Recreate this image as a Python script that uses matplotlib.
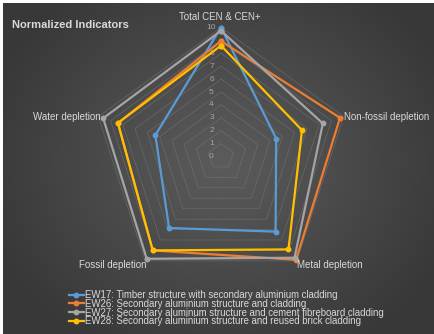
import numpy as np
import matplotlib.pyplot as plt

plt.rcParams['font.family'] = ['Liberation Sans', 'DejaVu Sans']

categories = ['Total CEN & CEN+', 'Non-fossil depletion', 'Metal depletion',
              'Fossil depletion', 'Water depletion']
series_names = ['EW17: Timber structure with secondary aluminium cladding',
                'EW26: Secondary aluminium structure and cladding',
                'EW27: Secondary aluminum structure and cement fibreboard cladding',
                'EW28: Secondary aluminium structure and reused brick cladding']
ew17 = [10.0, 4.5, 7.2, 6.85, 5.35]
ew26 = [8.95, 9.7, 9.9, 9.0, 8.4]
ew27 = [9.75, 8.3, 9.7, 9.8, 9.6]
ew28 = [8.6, 6.6, 8.9, 9.0, 8.4]
series = [ew17, ew26, ew27, ew28]
colors = ['#5B9BD5', '#ED7D31', '#A5A5A5', '#FFC000']
ticks = list(range(0, 11))

W, H = 435, 334
fig = plt.figure(figsize=(W / 100, H / 100), dpi=100)
fig.patch.set_facecolor('white')

# background with radial gradient
bg = fig.add_axes([3 / W, 0, 1 - 3 / W, 1 - 3 / H])
yy, xx = np.mgrid[0:H, 0:W]
d = np.sqrt(((xx - 221) / 230.0) ** 2 + ((yy - 160) / 200.0) ** 2)
shade = np.clip(0.36 - 0.13 * d, 0.22, 0.36)
bg.imshow(np.dstack([shade] * 3), aspect='auto', extent=[0, 1, 0, 1])
bg.set_axis_off()

cx, cy, R = 221, 156.5, 129
ax = fig.add_axes([(cx - R) / W, (H - cy - R) / H, 2 * R / W, 2 * R / H],
                  projection='polar')
ax.set_facecolor('none')
ax.set_theta_offset(np.pi / 2)
ax.set_theta_direction(-1)
ax.set_ylim(0, 10)
ax.grid(False)
ax.spines['polar'].set_visible(False)
ax.set_xticks([])
ax.set_yticks([])

angles = np.linspace(0, 2 * np.pi, len(categories), endpoint=False)
closed = np.concatenate([angles, angles[:1]])

# pentagon gridlines
for t in ticks[1:]:
    ax.plot(closed, [t] * len(closed), color='#7a7a7a', lw=0.5, alpha=0.6, zorder=1)

for t in ticks:
    ax.annotate(str(t), xy=(0, t), xytext=(-9.5, 0), textcoords='offset pixels',
                ha='center', va='center', fontsize=6, color='#a6a6a6',
                annotation_clip=False)

for vals, c, name in zip(series, colors, series_names):
    v = list(vals) + [vals[0]]
    ax.plot(closed, v, color=c, lw=1.6, marker='o', markersize=3.2,
            label=name, zorder=3, clip_on=False)

# category labels
offsets = [(-1, 10.5), (0, 0), (0, -4), (1, -4), (2, 0)]
aligns = [('center', 'center'), ('left', 'center'), ('left', 'center'),
          ('right', 'center'), ('right', 'center')]
for a, cat, off, (ha, va) in zip(angles, categories, offsets, aligns):
    ax.annotate(cat, xy=(a, 10), xytext=off, textcoords='offset pixels',
                ha=ha, va=va, fontsize=7, color='#d9d9d9', annotation_clip=False)

fig.text(12 / W, 1 - 25 / H, 'Normalized Indicators', fontsize=8,
         fontweight='bold', color='#d9d9d9', va='center', ha='left')

handles, labels = ax.get_legend_handles_labels()
leg = fig.legend(handles, labels, loc='upper left',
                 bbox_to_anchor=(69 / W, 1 - 290 / H), frameon=False,
                 fontsize=6.9, labelcolor='#d9d9d9', handlelength=1.55,
                 handletextpad=0.1, labelspacing=-0.13, borderpad=0,
                 borderaxespad=0)

fig.savefig('out.png', dpi=100, facecolor=fig.get_facecolor())
